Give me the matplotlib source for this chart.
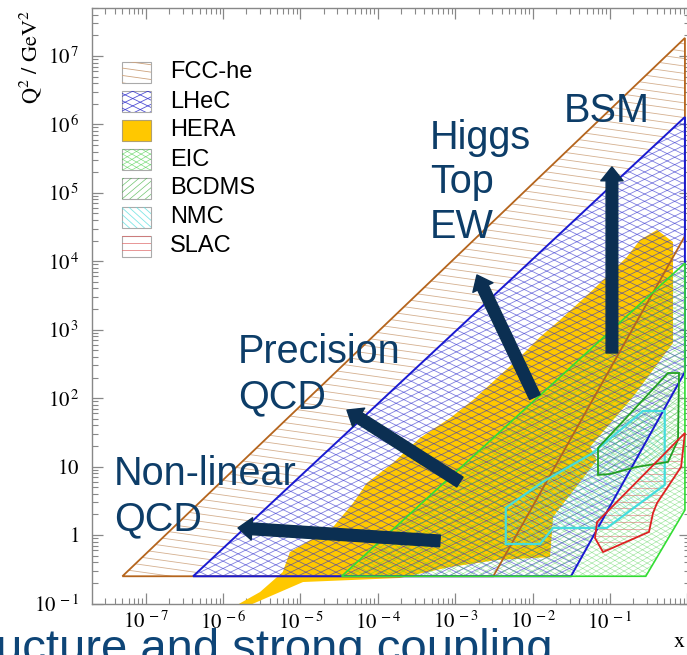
import numpy as np
import matplotlib
matplotlib.use("Agg")
import matplotlib.pyplot as plt
from matplotlib.patches import Polygon, Rectangle, FancyArrowPatch, ArrowStyle
from matplotlib.collections import LineCollection
from matplotlib.ticker import LogLocator, FuncFormatter, NullFormatter

plt.rcParams['mathtext.fontset'] = 'stix'
plt.rcParams['font.family'] = ['Liberation Serif', 'DejaVu Serif']

# ---------------- data (x, Q^2 / GeV^2) ----------------
fcc_x = [5.0e-8, 0.93, 0.93, 3.1e-3]
fcc_q2 = [0.25, 1.83e7, 2.34e4, 0.25]

lhec_x = [4.1e-7, 0.93, 0.93, 3.13e-2]
lhec_q2 = [0.25, 1.28e6, 242, 0.25]

eic_x = [3.4e-5, 0.93, 0.93, 0.29]
eic_q2 = [0.25, 9.4e3, 2.32, 0.25]

hera_x = [1.51e-6, 3.0e-6, 5.9e-6, 7.3e-6, 2.64e-5, 4.8e-5, 7.2e-5, 1.57e-4,
          3.5e-4, 8.6e-4, 1.7e-3, 6.9e-3, 1.25e-2, 2.26e-2, 6.0e-2, 0.166,
          0.244, 0.406, 0.652, 0.652, 0.360, 0.198, 0.0552, 0.0679, 0.0184,
          0.0168, 3.47e-3, 8.6e-4, 1.93e-4, 1.08e-5, 2.23e-6]
hera_q2 = [0.095, 0.147, 0.288, 0.565, 1.31, 2.94, 5.76, 11.3,
           26.2, 51.3, 94, 400, 783, 1390, 3810, 1.16e4,
           2.05e4, 2.87e4, 1.91e4, 640, 258, 104, 19.4, 12.5, 1.84,
           0.477, 0.432, 0.341, 0.236, 0.206, 0.095]

nmc_x = [4.5e-3, 4.5e-3, 1.25e-2, 1.84e-2, 0.091, 0.51, 0.51, 0.267, 0.060, 0.0136]
nmc_q2 = [2.5, 0.74, 0.74, 1.27, 1.27, 5.4, 65, 65, 15.8, 6.0]

bcdms_x = [0.070, 0.070, 0.100, 0.223, 0.562, 0.757, 0.78, 0.562]
bcdms_q2 = [18.7, 7.55, 7.8, 9.9, 11.7, 24.5, 233, 233]

slac_x = [0.068, 0.93, 0.83, 0.406, 0.360, 0.319, 0.0813, 0.064]
slac_q2 = [1.55, 31, 9.9, 2.94, 2.10, 1.11, 0.565, 0.906]

legend_labels = ["FCC-he", "LHeC", "HERA", "EIC", "BCDMS", "NMC", "SLAC"]

arrow_tail_x = [6.35e-4, 1.15e-3, 1.07e-2, 0.106]
arrow_tail_q2 = [0.82, 5.96, 104, 457]
arrow_head_x = [1.56e-6, 3.99e-5, 1.91e-3, 0.106]
arrow_head_q2 = [1.27, 67, 6.3e3, 2.39e5]
arrow_labels = ["Non-linear\nQCD", "Precision\nQCD", "Higgs\nTop\nEW", "BSM"]

x_major_exp = [-7, -6, -5, -4, -3, -2, -1]
y_major_exp = [-1, 0, 1, 2, 3, 4, 5, 6, 7]

# ---------------- figure ----------------
W, H = 687, 655
fig = plt.figure(figsize=(W / 100, H / 100), dpi=100)
AX_L, AX_R, AX_T, AX_B = 92, 690, 8, 603.5
ax = fig.add_axes([AX_L / W, (H - AX_B) / H, (AX_R - AX_L) / W, (AX_B - AX_T) / H])
ax.set_xscale('log')
ax.set_yscale('log')
ax.set_xlim(10 ** -7.694, 10 ** 0.034)
ax.set_ylim(0.1, 10 ** 7.70)


def fpx(x, y):
    """image pixel (y down) -> figure fraction"""
    return x / W, 1 - y / H


def hatch(clip_patch, angle, spacing, color, lw, alpha, z):
    th = np.deg2rad(angle)
    d = np.array([np.cos(th), np.sin(th)])
    n = np.array([-np.sin(th), np.cos(th)])
    R = np.hypot(W, H)
    c = np.array([W / 2, H / 2])
    segs = []
    for k in np.arange(-R / spacing - 1, R / spacing + 1):
        p = c + k * spacing * n
        a = (p - R * d) / [W, H]
        b = (p + R * d) / [W, H]
        segs.append([a, b])
    lc = LineCollection(segs, colors=color, linewidths=lw, alpha=alpha,
                        transform=fig.transFigure, zorder=z)
    ax.add_collection(lc, autolim=False)
    lc.set_clip_path(clip_patch)
    return lc


def poly(xs, ys, **kw):
    return Polygon(np.column_stack([xs, ys]), closed=True, transform=ax.transData, **kw)


styles = {
    "FCC-he": dict(hatch=[(-8, 7.3)], hc='#cda27c', hlw=0.6, ha=0.85, ec='#b5651d', elw=1.3),
    "LHeC": dict(hatch=[(26, 6.6), (-26, 6.6)], hc='#2a2acc', hlw=0.6, ha=0.6, ec='#1a1ad0', elw=1.4),
    "EIC": dict(hatch=[(30, 4.6), (-30, 4.6)], hc='#3fcc3f', hlw=0.5, ha=0.45, ec='#33dd33', elw=1.2),
    "BCDMS": dict(hatch=[(40, 5.0)], hc='#33aa33', hlw=0.5, ha=0.5, ec='#22a022', elw=1.3),
    "NMC": dict(hatch=[(-42, 5.0)], hc='#55dddd', hlw=0.6, ha=0.55, ec='#44dddd', elw=1.6),
    "SLAC": dict(hatch=[(0, 6.8)], hc='#dd6666', hlw=0.6, ha=0.6, ec='#dd2222', elw=1.3),
}
HERA_C = '#ffc800'

# FCC-he
fcc_clip = poly(fcc_x, fcc_q2)
for ang, sp in styles["FCC-he"]["hatch"]:
    hatch(fcc_clip, ang, sp, styles["FCC-he"]["hc"], styles["FCC-he"]["hlw"], styles["FCC-he"]["ha"], 1)
# LHeC white base
ax.add_patch(poly(lhec_x, lhec_q2, facecolor='white', edgecolor='none', zorder=1.5))
# HERA
ax.add_patch(poly(hera_x, hera_q2, facecolor=HERA_C, edgecolor='none', zorder=2))

regions = {"LHeC": (lhec_x, lhec_q2), "EIC": (eic_x, eic_q2), "NMC": (nmc_x, nmc_q2),
           "BCDMS": (bcdms_x, bcdms_q2), "SLAC": (slac_x, slac_q2)}
for name, (xs, ys) in regions.items():
    st = styles[name]
    cp = poly(xs, ys)
    for ang, sp in st["hatch"]:
        hatch(cp, ang, sp, st["hc"], st["hlw"], st["ha"], 3)

regions_all = {"FCC-he": (fcc_x, fcc_q2), **regions}
for name, (xs, ys) in regions_all.items():
    st = styles[name]
    ax.add_patch(poly(xs, ys, fill=False, edgecolor=st["ec"], lw=st["elw"], zorder=4,
                      joinstyle='miter'))

# arrows
ARROW_C = '#0b2f52'
for x0, y0, x1, y1 in zip(arrow_tail_x, arrow_tail_q2, arrow_head_x, arrow_head_q2):
    ar = FancyArrowPatch((x0, y0), (x1, y1),
                         arrowstyle=ArrowStyle.Simple(head_length=10, head_width=16, tail_width=8.4),
                         mutation_scale=1, color=ARROW_C, shrinkA=0, shrinkB=0, zorder=7)
    ax.add_patch(ar)

# arrow labels (position = left edge / baseline of the last line, image pixels)
TEXT_C = '#0d3d68'
label_pos = [(114, 530), (238, 408), (430, 238), (564, 122)]
for txt, (px, py) in zip(arrow_labels, label_pos):
    fx, fy = fpx(px, py)
    fig.text(fx, fy, txt, family=['Liberation Sans', 'DejaVu Sans'], fontsize=28.5,
             color=TEXT_C, ha='left', va='baseline', linespacing=1.22, zorder=8)

# legend
box_tops = [62, 91, 120, 149, 178, 207, 236]
for lab, top in zip(legend_labels, box_tops):
    x0, y0 = fpx(122, top + 21)
    x1, y1 = fpx(151, top)
    if lab == "HERA":
        r = Rectangle((x0, y0), x1 - x0, y1 - y0, transform=fig.transFigure,
                      facecolor=HERA_C, edgecolor='#b0a070', lw=0.8, zorder=9)
        ax.add_patch(r)
    else:
        r = Rectangle((x0, y0), x1 - x0, y1 - y0, transform=fig.transFigure,
                      facecolor='white', edgecolor='#aaaaaa', lw=0.8, zorder=9)
        ax.add_patch(r)
        st = styles[lab]
        cp = Rectangle((x0, y0), x1 - x0, y1 - y0, transform=fig.transFigure)
        for ang, sp in st["hatch"]:
            hatch(cp, ang, sp, st["hc"], st["hlw"], min(1, st["ha"] + 0.2), 9.5)
    tx, ty = fpx(170, top + 10.5)
    fig.text(tx, ty, lab, family=['Liberation Sans', 'DejaVu Sans'], fontsize=17,
             color='black', ha='left', va='center', zorder=10)

# axes styling
for side in ['left', 'bottom', 'top', 'right']:
    ax.spines[side].set_color('#888888')
    ax.spines[side].set_linewidth(1.0)
ax.xaxis.set_major_locator(LogLocator(base=10, numticks=20))
ax.xaxis.set_minor_locator(LogLocator(base=10, subs=np.arange(2, 10), numticks=20))
ax.yaxis.set_major_locator(LogLocator(base=10, numticks=20))
ax.yaxis.set_minor_locator(LogLocator(base=10, subs=np.arange(2, 10), numticks=20))


def xfmt(v, pos):
    e = int(round(np.log10(v)))
    return r'$10^{\,%d}$' % e if e in x_major_exp else ''


def yfmt(v, pos):
    e = int(round(np.log10(v)))
    if e not in y_major_exp:
        return ''
    if e == 0:
        return r'$1\ \,$'
    if e == 1:
        return r'$10\ \,$'
    return r'$10^{\,%d}$' % e


ax.xaxis.set_major_formatter(FuncFormatter(xfmt))
ax.yaxis.set_major_formatter(FuncFormatter(yfmt))
ax.xaxis.set_minor_formatter(NullFormatter())
ax.yaxis.set_minor_formatter(NullFormatter())
ax.tick_params(which='both', direction='in', top=True, right=True, color='#888888')
ax.tick_params(which='major', length=8, width=0.9, labelsize=15)
ax.tick_params(which='minor', length=4, width=0.8)
ax.tick_params(axis='y', which='major', pad=9)
ax.tick_params(axis='x', which='major', pad=6)

ax.set_ylabel(r'$\mathrm{Q^{2}\ /\ GeV^{2}}$', fontsize=16, loc='top')
ax.yaxis.set_label_coords(-0.080, 0.9966)
ax.set_xlabel(r'$\mathrm{x}$', fontsize=16, loc='right')
ax.xaxis.set_label_coords(0.993, -0.05)

# slide title fragment at the bottom (cut off by the slide edge)
fig.text(-4 / W, (H - 662) / H, "ucture and strong coupling",
         family=['Liberation Sans', 'DejaVu Sans'], fontsize=34, color='#0e4577',
         ha='left', va='baseline', zorder=20)

fig.savefig('out.png', dpi=100)
